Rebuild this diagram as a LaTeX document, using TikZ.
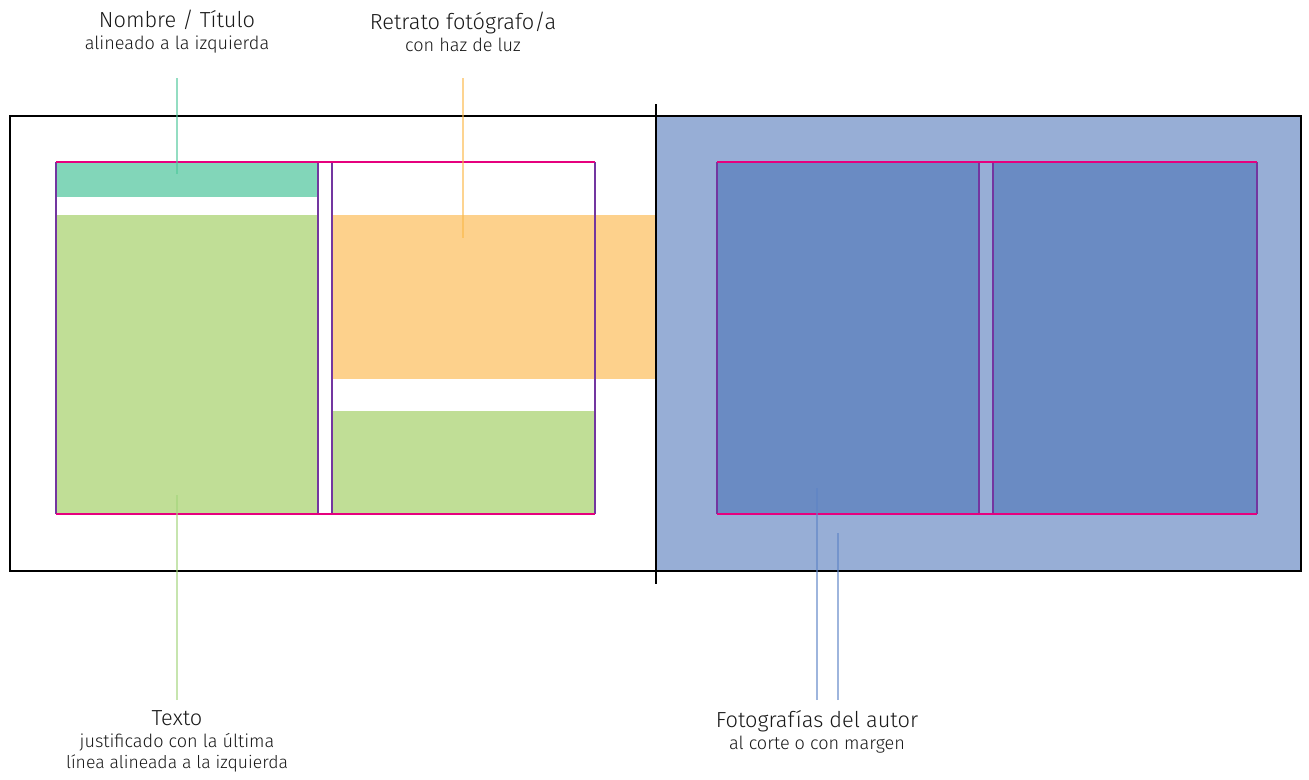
\documentclass[tikz,border=0pt]{standalone}
\usepackage{fontspec}
\setmainfont{Fira Sans}[UprightFont=*-Light]
\usepackage{xcolor}
\usetikzlibrary{positioning, calc}
\definecolor{cPage}{HTML}{97AED6}
\definecolor{cPhoto}{HTML}{6A8BC3}
\definecolor{cName}{HTML}{82D6B9}
\definecolor{cText}{HTML}{C0DE96}
\definecolor{cPortrait}{HTML}{FDD18C}
\definecolor{cMarg}{HTML}{E6007E}
\definecolor{cCol}{HTML}{7336A0}
\definecolor{cLeadName}{HTML}{4CC79A}
\definecolor{cLeadPort}{HTML}{FBB848}
\definecolor{cLeadText}{HTML}{A2D47A}
\definecolor{cLeadPhoto}{HTML}{5E84C6}
\tikzset{
  pageframe/.style ={draw=black, line width=1.3pt},
  colframe/.style  ={draw=cCol, line width=1.3pt},
  margline/.style  ={draw=cMarg, line width=1.3pt},
  leader/.style    ={line width=1.6pt, draw opacity=0.6},
  label/.style     ={align=center, inner sep=0pt, text=black!90},
}
\newcommand{\labelbody}[2]{%
  \fontsize{12.4}{13.5}\selectfont #1\\[0.5pt]%
  \fontsize{10.3}{13}\selectfont #2%
}

\begin{document}
\begin{tikzpicture}[x=0.02cm, y=-0.02cm]
  \useasboundingbox (0,0) rectangle (1309,779);

  % ============================================================
  % FILLS (left page blocks, right page photos)
  % ============================================================
  \fill[cPage]     (656,116) rectangle (1301,571);
  \fill[cName]     (56,162)  rectangle (318,197);
  \fill[cText]     (56,215)  rectangle (318,514);
  \fill[cPortrait] (332,215) rectangle (656,379);
  \fill[cText]     (332,411) rectangle (595,514);
  \fill[cPhoto]    (717,162) rectangle (979,514);
  \fill[cPhoto]    (993,162) rectangle (1257,514);

  % --- Column guides (purple sides, magenta top / bottom) ---
  \foreach \xa/\xb in {56/318, 332/595, 717/979, 993/1257} {
    \draw[colframe] (\xa,162) -- (\xa,514);
    \draw[colframe] (\xb,162) -- (\xb,514);
  }
  \draw[margline] (56,162)  -- (595,162);
  \draw[margline] (56,514)  -- (595,514);
  \draw[margline] (717,162) -- (1257,162);
  \draw[margline] (717,514) -- (1257,514);

  % --- Spread frame + spine ---
  \draw[pageframe] (10,116) rectangle (1301,571);
  \draw[pageframe] (656,104) -- (656,584);

  % ============================================================
  % LABELS
  % ============================================================
  \node[label] (nombre)  at (177,32)
    {\labelbody{Nombre / Título}{alineado a la izquierda}};
  \node[label] (retrato) at (463,32)
    {\labelbody{Retrato fotógrafo/a}{con haz de luz}};
  \node[label, anchor=north] (texto) at (177,710)
    {\labelbody{Texto}{justificado con la última\\línea alineada a la izquierda}};
  \node[label, anchor=north] (fotos) at (817,710)
    {\labelbody{Fotografías del autor}{al corte o con margen}};

  % --- Leader lines ---
  \coordinate (nombreA)  at (177,78);  \coordinate (nombreB)  at (177,174);
  \coordinate (retratoA) at (463,78);  \coordinate (retratoB) at (463,238);
  \coordinate (textoA)   at (177,700); \coordinate (textoB)   at (177,495);
  \coordinate (fotosA)   at (817,700); \coordinate (fotosB)   at (817,488);
  \coordinate (fotosC)   at (838,700); \coordinate (fotosD)   at (838,533);

  \draw[leader, draw=cLeadName]  (nombreA)  -- (nombreB);
  \draw[leader, draw=cLeadPort]  (retratoA) -- (retratoB);
  \draw[leader, draw=cLeadText]  (textoA)   -- (textoB);
  \draw[leader, draw=cLeadPhoto] (fotosA)   -- (fotosB);
  \draw[leader, draw=cLeadPhoto] (fotosC)   -- (fotosD);

\end{tikzpicture}
\end{document}
